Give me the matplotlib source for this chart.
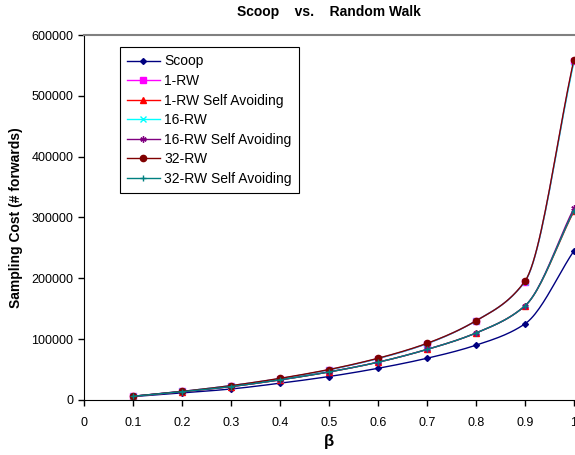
import numpy as np
import matplotlib.pyplot as plt

plt.rcParams['font.family'] = ['Liberation Sans', 'DejaVu Sans']

# data
beta = [0.1, 0.2, 0.3, 0.4, 0.5, 0.6, 0.7, 0.8, 0.9, 1.0]
scoop = [5500, 11500, 18000, 27500, 38500, 52000, 68500, 90000, 125000, 245000]
rw1 = [6000, 14000, 23500, 35000, 49500, 68000, 92500, 130000, 194500, 557000]
rw1_sa = [6000, 13500, 22000, 33000, 46000, 62000, 83000, 110000, 154500, 310000]
rw16 = [6000, 14000, 23500, 35000, 49500, 68000, 92500, 130000, 194500, 555000]
rw16_sa = [6000, 13500, 22000, 33000, 46000, 62000, 83000, 110000, 154500, 315000]
rw32 = [6000, 14000, 23500, 35500, 50000, 68500, 93000, 130000, 195000, 559000]
rw32_sa = [6000, 13500, 22000, 33000, 46000, 62000, 83000, 110000, 154500, 311000]

labels = ['Scoop', '1-RW', '1-RW Self Avoiding', '16-RW', '16-RW Self Avoiding',
          '32-RW', '32-RW Self Avoiding']
series = [scoop, rw1, rw1_sa, rw16, rw16_sa, rw32, rw32_sa]
colors = ['#000080', '#FF00FF', '#FF0000', '#00FFFF', '#800080', '#800000', '#008080']
markers = ['D', 's', '^', 'x', (6, 2, 0), 'o', '+']
msizes = [3, 4, 4, 4.5, 4.5, 4.5, 4.5]


def smooth(x, y, n=25):
    # monotone cubic (Fritsch-Carlson) curve through the points
    x = np.asarray(x, float)
    y = np.asarray(y, float)
    h = np.diff(x)
    d = np.diff(y) / h
    m = np.zeros_like(y)
    m[0], m[-1] = d[0], d[-1]
    for i in range(1, len(x) - 1):
        if d[i - 1] * d[i] > 0:
            w1 = 2 * h[i] + h[i - 1]
            w2 = h[i] + 2 * h[i - 1]
            m[i] = (w1 + w2) / (w1 / d[i - 1] + w2 / d[i])
    xs, ys = [], []
    t = np.linspace(0, 1, n)[:-1]
    for i in range(len(x) - 1):
        h00 = 2 * t ** 3 - 3 * t ** 2 + 1
        h10 = t ** 3 - 2 * t ** 2 + t
        h01 = -2 * t ** 3 + 3 * t ** 2
        h11 = t ** 3 - t ** 2
        xs.extend(x[i] + t * h[i])
        ys.extend(h00 * y[i] + h10 * h[i] * m[i] + h01 * y[i + 1] + h11 * h[i] * m[i + 1])
    xs.append(x[-1])
    ys.append(y[-1])
    return xs, ys


fig = plt.figure(figsize=(5.75, 4.55), dpi=100)
ax = fig.add_axes([0.146, 0.121, 0.852, 0.802])

for lab, vals, c, m, ms in zip(labels, series, colors, markers, msizes):
    sx, sy = smooth(beta, vals)
    ax.plot(sx, sy, color=c, lw=1)
    ax.plot(beta, vals, linestyle='none', marker=m, color=c, markersize=ms,
            markeredgewidth=1)
    ax.plot([], [], color=c, lw=1, marker=m, markersize=ms, label=lab)

ax.set_xlim(0, 1)
ax.set_ylim(0, 600000)
ax.set_xticks(np.arange(0, 1.01, 0.1))
ax.set_xticklabels(['0', '0.1', '0.2', '0.3', '0.4', '0.5', '0.6', '0.7', '0.8', '0.9', '1'])
ax.set_yticks(np.arange(0, 600001, 100000))
ax.set_yticklabels([str(v) for v in range(0, 600001, 100000)])
ax.tick_params(labelsize=9, length=4, width=1, direction='out')
ax.tick_params(axis='x', pad=8)

ax.spines['right'].set_visible(False)
ax.spines['top'].set_color('#808080')
ax.spines['top'].set_linewidth(1.5)

ax.set_title('Scoop    vs.    Random Walk', fontsize=10, fontweight='bold', pad=14)
ax.set_xlabel('β', fontsize=12, fontweight='bold', labelpad=4)
ax.set_ylabel('Sampling Cost (# forwards)', fontsize=10, fontweight='bold', labelpad=6)

leg = ax.legend(loc='upper left', bbox_to_anchor=(0.059, 0.985), fontsize=10,
                frameon=True, fancybox=False, edgecolor='black', framealpha=1,
                handlelength=2.4, labelspacing=0.4, borderpad=0.5, handletextpad=0.3)
leg.get_frame().set_linewidth(0.8)

fig.savefig('out.png', dpi=100)
